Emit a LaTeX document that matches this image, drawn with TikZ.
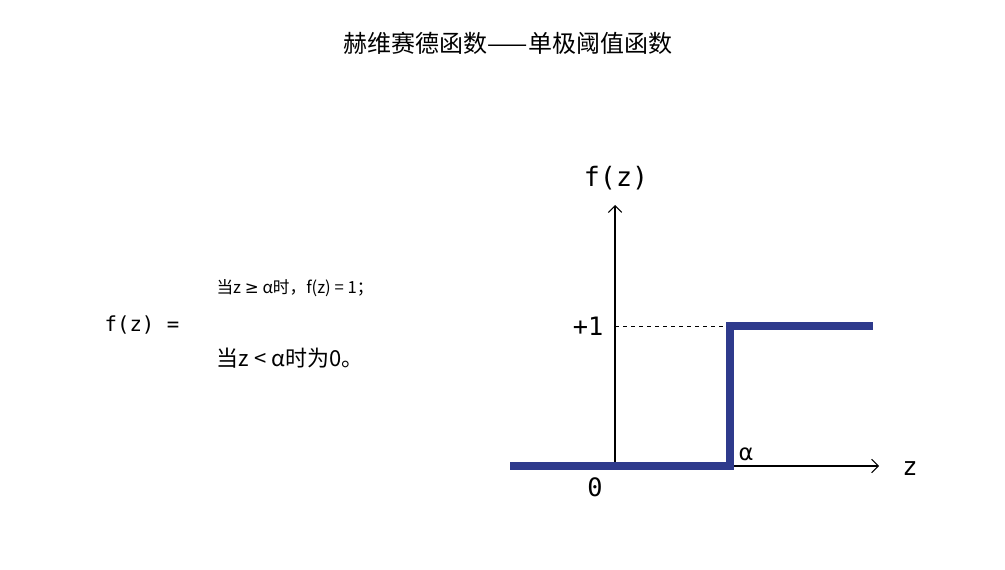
\documentclass[tikz,border=0pt]{standalone}
\usepackage{fontspec}
\setmainfont{Noto Sans CJK SC}
\newfontfamily\cjk{Noto Sans CJK SC}
\newfontfamily\mono{DejaVu Sans Mono}
\newfontfamily\dv{DejaVu Sans}
\usetikzlibrary{arrows.meta}
\definecolor{stepblue}{HTML}{2E3A8C}
\begin{document}
\begin{tikzpicture}[x=0.75pt,y=-0.75pt,
  axis/.style={draw=black,line width=0.8pt,-{Straight Barb[length=5pt]}},
  lbl/.style={inner sep=0pt,font=\mono\fontsize{19}{21}\selectfont}]
\useasboundingbox (0,0) rectangle (1005,570);
\node[inner sep=0pt,font=\cjk\fontsize{18}{22}\selectfont] (title) at (508,43) {赫维赛德函数——单极阈值函数};
\coordinate (o) at (615,466);
\coordinate (yt) at (615,205);
\coordinate (xl) at (510,466);
\coordinate (xt) at (879,466);
\coordinate (d1) at (615,326);
\coordinate (d2) at (728,326);
\draw[axis] (o) -- (yt);
\draw[axis] (xl) -- (xt);
\draw[dashed,line width=0.6pt] (d1) -- (d2);
\coordinate (s0) at (510,466);
\coordinate (s1) at (730,466);
\coordinate (s2) at (730,326);
\coordinate (s3) at (873,326);
\draw[stepblue,line width=5.5pt] (s0) -- (s1) -- (s2) -- (s3);
\node[lbl,font=\mono\fontsize{20}{22}\selectfont] (fz) at (616,178) {f(z)};
\node[lbl] (p1) at (588,326) {+1};
\node[lbl,font=\dv\fontsize{17}{19}\selectfont] (al) at (746,454) {α};
\node[lbl] (z) at (910,469) {z};
\node[lbl] (zero) at (595,487) {0};
\node[inner sep=0pt,font=\mono\fontsize{15.5}{18}\selectfont] (lhs) at (142,325) {f(z) =};
\node[inner sep=0pt,font=\cjk\fontsize{12.5}{15}\selectfont] (c1) at (295,288) {当z {\dv ≥} α时，f(z) = 1；};
\node[inner sep=0pt,font=\cjk\fontsize{16.5}{19}\selectfont] (c2) at (290,358) {当z < α时为0。};
\end{tikzpicture}
\end{document}
